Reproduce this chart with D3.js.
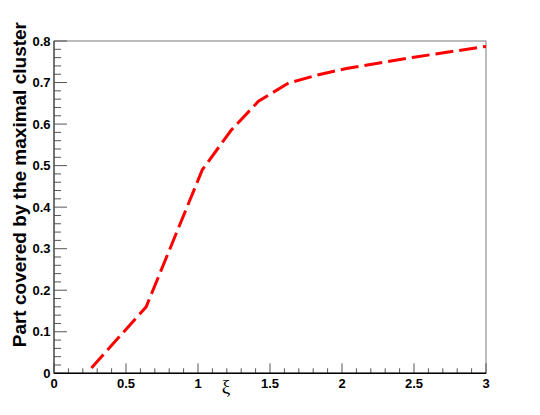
<!DOCTYPE html>
<meta charset="utf-8">
<head>
<script src="https://d3js.org/d3.v7.min.js"></script>
</head>
<style>
  body { margin: 0; background: #fff; }
  svg { display: block; }
  .tick-label { font-family: "Liberation Sans", Arial, sans-serif; font-weight: bold; font-size: 13px; fill: #000; }
</style>
<body>
<script>
  // curve
  var xi    = [0.26, 0.64, 1.03, 1.23, 1.42, 1.63, 1.83, 2.03, 2.5, 3.0];
  var part  = [0.013, 0.16, 0.49, 0.585, 0.655, 0.699, 0.718, 0.734, 0.761, 0.787];
  var xTicks = [0, 0.5, 1, 1.5, 2, 2.5, 3];
  var yTicks = [0, 0.1, 0.2, 0.3, 0.4, 0.5, 0.6, 0.7, 0.8];
  var xLabel = "\u03be";
  var yLabel = "Part covered by the maximal cluster";

  var width = 540, height = 415;
  var padL = 54, padR = 486, padT = 41, padB = 373.3;

  var svg = d3.select("body").append("svg")
    .attr("width", width)
    .attr("height", height);

  var x = d3.scaleLinear().domain([0, 3]).range([padL, padR]);
  var y = d3.scaleLinear().domain([0, 0.8]).range([padB, padT]);

  // frame
  svg.append("rect")
    .attr("x", padL).attr("y", padT)
    .attr("width", padR - padL).attr("height", padB - padT)
    .attr("fill", "none")
    .attr("stroke", "#7a7a7a")
    .attr("stroke-width", 1);

  // ticks, 0.1 / 0.02 apart, longer on the labelled ones
  var xMinor = d3.range(0, 31).map(function(i) { return i / 10; });
  var yMinor = d3.range(0, 41).map(function(i) { return i / 50; });

  svg.append("g").selectAll("line")
    .data(xMinor)
   .enter().append("line")
    .attr("x1", function(d) { return x(d); })
    .attr("x2", function(d) { return x(d); })
    .attr("y1", padB)
    .attr("y2", function(d) { return Math.abs(d * 2 - Math.round(d * 2)) < 1e-6 ? padB - 10 : padB - 5; })
    .attr("stroke", "#555")
    .attr("stroke-width", 1);

  svg.append("g").selectAll("line")
    .data(yMinor)
   .enter().append("line")
    .attr("y1", function(d) { return y(d); })
    .attr("y2", function(d) { return y(d); })
    .attr("x1", padL)
    .attr("x2", function(d) { return Math.abs(d * 10 - Math.round(d * 10)) < 1e-6 ? padL + 13 : padL + 7; })
    .attr("stroke", "#555")
    .attr("stroke-width", 1);

  // axis lines
  svg.append("line")
    .attr("x1", padL).attr("x2", padR)
    .attr("y1", padB).attr("y2", padB)
    .attr("stroke", "#000").attr("stroke-width", 1.5);
  svg.append("line")
    .attr("x1", padL).attr("x2", padL)
    .attr("y1", padT).attr("y2", padB)
    .attr("stroke", "#444").attr("stroke-width", 1.2);

  // tick labels
  svg.append("g").selectAll("text")
    .data(xTicks)
   .enter().append("text")
    .attr("class", "tick-label")
    .attr("x", function(d) { return x(d); })
    .attr("y", 388)
    .attr("text-anchor", "middle")
    .text(function(d) { return d; });

  svg.append("g").selectAll("text")
    .data(yTicks)
   .enter().append("text")
    .attr("class", "tick-label")
    .attr("x", 50.5)
    .attr("y", function(d) { return y(d); })
    .attr("dy", "0.36em")
    .attr("text-anchor", "end")
    .text(function(d) { return d; });

  // axis titles
  svg.append("text")
    .attr("x", 226)
    .attr("y", 393)
    .attr("text-anchor", "middle")
    .attr("font-family", "Liberation Serif, serif")
    .attr("font-size", 19)
    .text(xLabel);

  svg.append("text")
    .attr("transform", "translate(25.5,22) rotate(-90)")
    .attr("text-anchor", "end")
    .attr("font-family", "Liberation Sans, Arial, sans-serif")
    .attr("font-weight", "bold")
    .attr("font-size", 19)
    .text(yLabel);

  // the curve
  var line = d3.line()
    .x(function(d, i) { return x(xi[i]); })
    .y(function(d) { return y(d); });

  svg.append("path")
    .datum(part)
    .attr("d", line)
    .attr("fill", "none")
    .attr("stroke", "#ff0000")
    .attr("stroke-width", 3)
    .attr("stroke-dasharray", "18 6");
</script>
</body>
